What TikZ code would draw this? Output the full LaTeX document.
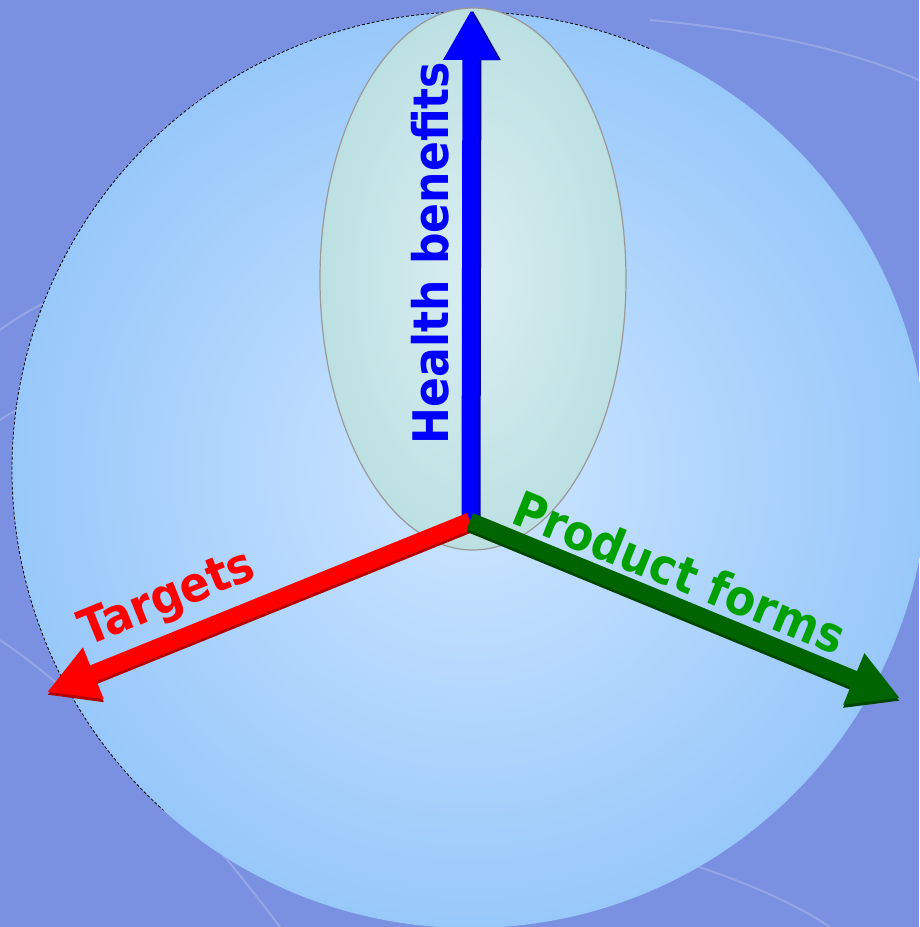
\documentclass[tikz,border=0pt]{standalone}
\usepackage{fontspec}
\setmainfont{DejaVu Sans Condensed}
\usetikzlibrary{arrows.meta,shapes.geometric,calc}

\definecolor{backblue}{RGB}{122,144,224}
\definecolor{ballin}{RGB}{206,230,255}
\definecolor{ballout}{RGB}{152,200,250}
\definecolor{lensin}{RGB}{218,238,242}
\definecolor{lensout}{RGB}{188,224,226}
\definecolor{axisgreen}{RGB}{0,100,0}
\definecolor{textgreen}{RGB}{0,160,0}

\begin{document}
\begin{tikzpicture}[x=1pt, y=-1pt]
  \tikzstyle{axis}=[line width=17pt, -{Triangle[length=50pt,width=52pt]}]
  \tikzstyle{label}=[inner sep=0pt, font=\fontsize{49}{54}\selectfont\bfseries]

  % fond
  \fill[backblue] (0,0) rectangle (919,927);
  \useasboundingbox (0,0) rectangle (919,927);
  \begin{scope}[white, opacity=0.2, line width=2pt]
    \draw (0,640) .. controls (90,700) and (200,820) .. (280,927);
    \draw (0,330) .. controls (40,300) and (90,280) .. (140,275);
    \draw (0,420) .. controls (30,400) and (60,390) .. (90,385);
    \draw (640,850) .. controls (720,870) and (790,900) .. (830,927);
    \draw (650,20) .. controls (760,30) and (850,50) .. (919,80);
  \end{scope}

  % sphère et lentille
  \shade[inner color=ballin, outer color=ballout] (470,470) circle (458);
  \draw[black, densely dashed, line width=0.8pt] (470,470) ++(-67:458) arc (-67:-228:458);
  \shade[inner color=lensin, outer color=lensout, draw=gray!80, line width=1.2pt]
    (473,279) ellipse [x radius=153, y radius=271];

  % origine et extrémités des axes
  \coordinate (o) at (470,521);
  \coordinate (up) at (471,10);
  \coordinate (left) at (47,692);
  \coordinate (right) at (900,698);

  % axes (ombre puis couleur)
  \draw[axis, blue!60!black] ($(o)+(2,0)$) -- ($(up)+(2,0)$);
  \draw[axis, blue] (o) -- (up);
  \draw[axis, red!70!black] ($(o)+(0,3)$) -- ($(left)+(0,3)$);
  \draw[axis, red] (o) -- (left);
  \draw[axis, axisgreen!70!black] ($(o)+(0,3)$) -- ($(right)+(0,3)$);
  \draw[axis, axisgreen] (o) -- (right);

  % étiquettes
  \node[label, blue, rotate=90] (health) at (430,253) {Health benefits};
  \node[label, red, rotate=22] (targets) at (168,600) {Targets};
  \node[label, textgreen, rotate=-22] (forms) at (680,572) {Product forms};
\end{tikzpicture}
\end{document}
